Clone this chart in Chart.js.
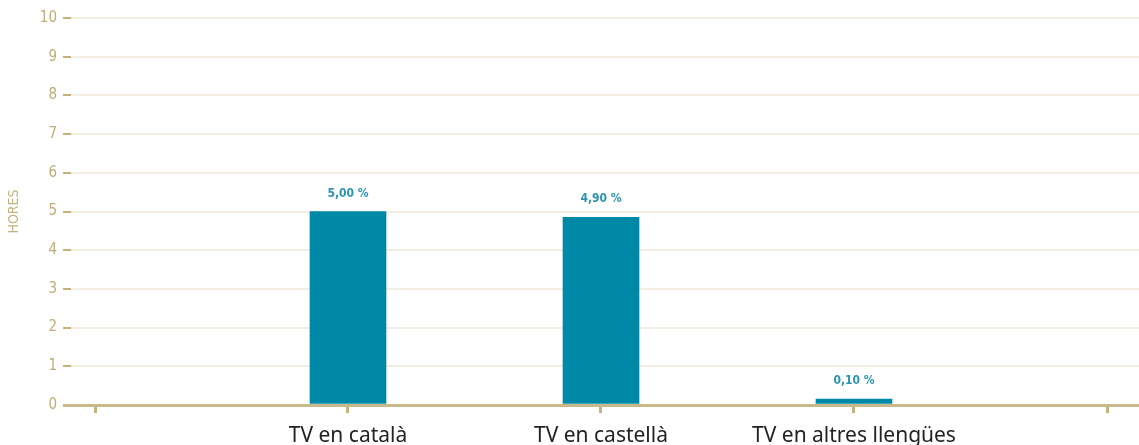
<!DOCTYPE html>
<html>
<head>
<meta charset="utf-8">
<script src="https://cdn.jsdelivr.net/npm/chart.js@4"></script>
<style>
  html, body { margin: 0; padding: 0; background: #fff; }
  #wrap { width: 1139px; height: 445px; }
</style>
</head>
<body>
<div id="wrap"><canvas id="hoursChart"></canvas></div>
<script>
const categories = ['', 'TV en català', 'TV en castellà', 'TV en altres llengües', ''];
const positions = [1, 2, 3];
const hours = [5.0, 4.85, 0.15];
const valueLabels = ['5,00 %', '4,90 %', '0,10 %'];
const yTicks = [0, 1, 2, 3, 4, 5, 6, 7, 8, 9, 10];

const GOLD = '#c4b37d';
const GRID = '#f2eee4';
const BAR = '#0088a7';
const NARROW = "'Liberation Sans Narrow', 'DejaVu Sans Condensed', sans-serif";

const valueLabelPlugin = {
  id: 'valueLabels',
  afterDatasetsDraw(chart) {
    const ctx = chart.ctx;
    const meta = chart.getDatasetMeta(0);
    ctx.save();
    ctx.font = `bold 12px ${NARROW}`;
    ctx.fillStyle = '#2b93b3';
    ctx.textAlign = 'center';
    ctx.textBaseline = 'middle';
    meta.data.forEach((bar, i) => {
      ctx.fillText(valueLabels[i], bar.x, bar.y - 18);
    });
    ctx.restore();
  }
};

new Chart(document.getElementById('hoursChart'), {
  type: 'bar',
  data: {
    datasets: [{
      data: positions.map((p, i) => ({ x: p, y: hours[i] })),
      backgroundColor: BAR,
      barThickness: 76
    }]
  },
  options: {
    responsive: true,
    maintainAspectRatio: false,
    animation: false,
    layout: { padding: { top: 18, right: 0, left: 0, bottom: 0 } },
    plugins: {
      legend: { display: false },
      tooltip: { enabled: false }
    },
    scales: {
      x: {
        type: 'linear',
        offset: false,
        min: -24 / 253,
        max: 4 + 32 / 253,
        afterBuildTicks: scale => { scale.ticks = categories.map((c, i) => ({ value: i })); },
        afterFit: scale => { scale.height = 40; },
        border: { display: false },
        grid: {
          offset: false,
          drawOnChartArea: false,
          drawTicks: true,
          tickLength: 8,
          tickColor: GOLD,
          tickWidth: 3
        },
        ticks: {
          autoSkip: false,
          maxRotation: 0,
          padding: 10,
          color: '#222',
          font: { family: "'Noto Sans', 'Open Sans', sans-serif", size: 21 },
          callback: v => categories[v] ?? ''
        }
      },
      y: {
        min: 0,
        max: 10,
        afterBuildTicks: scale => { scale.ticks = yTicks.map(v => ({ value: v })); },
        afterFit: scale => { scale.width = 71; },
        border: { display: false },
        grid: {
          color: c => c.tick && c.tick.value === 0 ? '#c9b98a' : GRID,
          lineWidth: c => c.tick && c.tick.value === 0 ? 3 : 2,
          tickLength: 8,
          tickColor: c => c.tick && c.tick.value === 0 ? '#c9b98a' : GOLD,
          tickWidth: c => c.tick && c.tick.value === 0 ? 3 : 2
        },
        ticks: {
          padding: 6,
          color: '#bead78',
          font: { family: NARROW, size: 15 }
        },
        title: {
          display: true,
          text: 'HORES',
          color: '#c3b382',
          padding: 6,
          font: { family: NARROW, size: 14 }
        }
      }
    }
  },
  plugins: [valueLabelPlugin]
});
</script>
</body>
</html>
